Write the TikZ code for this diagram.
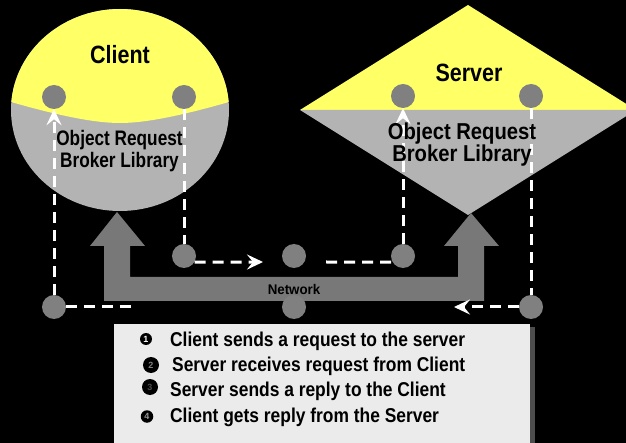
\documentclass[tikz,border=0pt]{standalone}
\usepackage{fontspec}
\setmainfont{Liberation Sans}
\usetikzlibrary{arrows.meta}
\definecolor{ylw}{HTML}{FFFF66}
\definecolor{lgray}{HTML}{B3B3B3}
\definecolor{dotgray}{HTML}{808080}
\definecolor{arrgray}{HTML}{787878}
\definecolor{boxgray}{HTML}{EBEBEB}
\definecolor{shadowgray}{HTML}{4D4D4D}
\begin{document}
\begin{tikzpicture}[x=1pt,y=-1pt,
  dot/.style={circle,fill=dotgray,minimum size=24pt,inner sep=0pt},
  flow/.style={white,line width=3pt,dash pattern=on 11pt off 7pt},
  flowarrow/.style={flow,-{Stealth[length=16pt,width=15pt,inset=6pt]}},
  biglbl/.style={font=\bfseries\fontsize{25}{28}\selectfont,inner sep=0pt,xscale=0.86,anchor=base},
  orbc/.style={font=\bfseries\fontsize{21}{21.5}\selectfont,inner sep=0pt,xscale=0.82,align=center},
  orbs/.style={font=\bfseries\fontsize{23}{22.4}\selectfont,inner sep=0pt,xscale=0.88,align=center},
  netlbl/.style={font=\bfseries\fontsize{14}{16}\selectfont,inner sep=0pt,xscale=0.95,anchor=base},
  legtext/.style={font=\bfseries\fontsize{20}{24}\selectfont,inner sep=0pt,xscale=0.87,anchor=base west},
  bullet/.style={circle,fill=black,inner sep=0pt,font=\bfseries\fontsize{9}{9}\selectfont}
]
\fill[black] (0,0) rectangle (626,443);
\useasboundingbox (0,0) rectangle (626,443);
\clip (0,0) rectangle (626,443);

% Client shape
\begin{scope}
  \clip (120,110) ellipse [x radius=109pt, y radius=101pt];
  \fill[lgray] (0,0) rectangle (240,220);
  \fill[ylw] (0,101) -- (11,102) .. controls (60,116) and (95,123) .. (120,123)
     .. controls (145,123) and (180,116) .. (229,102) -- (240,101) -- (240,0) -- (0,0) -- cycle;
\end{scope}

% Server shape
\fill[ylw] (300,110) -- (468,5) -- (636,110) -- cycle;
\fill[lgray] (300,110) -- (636,110) -- (468,215) -- cycle;

% Network arrow
\fill[arrgray] (117,212) -- (145,246) -- (130,246) -- (130,277) -- (458,277) -- (458,246)
  -- (444,246) -- (471,213) -- (499,246) -- (484,246) -- (484,301) -- (104,301)
  -- (104,246) -- (90,246) -- cycle;
\node[netlbl] (net) at (294,295) {Network};

% Dots
\node[dot] (c1) at (54,97) {};
\node[dot] (c2) at (184,97) {};
\node[dot] (s1) at (403,96) {};
\node[dot] (s2) at (531,96) {};
\node[dot] (m1) at (184,256) {};
\node[dot] (m2) at (294,256) {};
\node[dot] (m3) at (403,256) {};
\node[dot] (b1) at (54,307) {};
\node[dot] (b2) at (294,307) {};
\node[dot] (b3) at (531,307) {};

% Flow connectors
\coordinate (a1) at (263,262);
\coordinate (a2) at (326,262);
\coordinate (a3) at (454,307);
\coordinate (a4) at (134,307);
\draw[flow] (c2) -- (m1);
\draw[flowarrow] (m1.-30) -- (a1);
\draw[flow] (a2) -- (m3.210);
\draw[flowarrow] (m3) -- (s1);
\draw[flow] (s2) -- (b3);
\draw[flowarrow] (b3) -- (a3);
\draw[flow] (b1) -- (a4);
\draw[flowarrow] (b1) -- (c1);

% Labels
\node[biglbl] (clientlbl) at (120,64) {Client};
\node[biglbl] (serverlbl) at (469,82) {Server};
\node[orbc] (corb) at (119.5,151) {Object Request\\Broker Library};
\node[orbs] (sorb) at (462,144.5) {Object Request\\Broker Library};

% Legend
\fill[shadowgray] (530,327) rectangle (535,450);
\fill[boxgray] (114,324) rectangle (530,450);
\node[bullet,minimum size=12pt,text=white] (n1) at (146,339) {1};
\node[bullet,minimum size=16pt,text=gray] (n2) at (151,365) {2};
\node[bullet,minimum size=16pt,text=gray!60!black] (n3) at (150,387) {3};
\node[bullet,minimum size=12.5pt,text=gray!80] (n4) at (147,416.5) {4};
\node[legtext] (t1) at (170,346.7) {Client sends a request to the server};
\node[legtext] (t2) at (172,371.7) {Server receives request from Client};
\node[legtext] (t3) at (170,396.7) {Server sends a reply to the Client};
\node[legtext] (t4) at (170,422.3) {Client gets reply from the Server};
\end{tikzpicture}
\end{document}
